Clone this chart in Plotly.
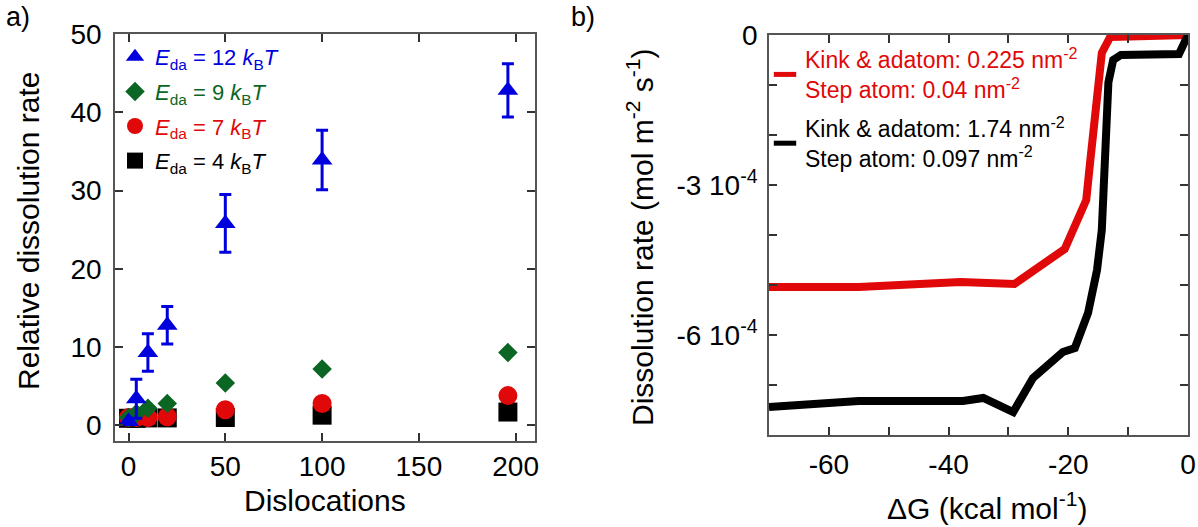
import numpy as np
import plotly.graph_objects as go

# ---------------- Panel a data ----------------
dislocations = [0, 4, 10, 20, 50, 100, 196]
rate_e12 = [0.5, 3.4, 9.3, 12.8, 25.8, 33.9, 42.8]
err_e12 = [0, 2.5, 2.4, 2.4, 3.7, 3.8, 3.4]
rate_e9 = [1.0, 1.5, 2.2, 2.8, 5.4, 7.2, 9.3]
rate_e7 = [1.0, 1.0, 1.0, 1.1, 2.0, 2.8, 3.8]
rate_e4 = [0.9, 0.9, 0.95, 0.95, 1.0, 1.3, 1.7]

labels_a = {
    "e12": "<i>E</i><sub>da</sub> = 12 <i>k</i><sub>B</sub><i>T</i>",
    "e9": "<i>E</i><sub>da</sub> = 9 <i>k</i><sub>B</sub><i>T</i>",
    "e7": "<i>E</i><sub>da</sub> = 7 <i>k</i><sub>B</sub><i>T</i>",
    "e4": "<i>E</i><sub>da</sub> = 4 <i>k</i><sub>B</sub><i>T</i>",
}

# ---------------- Panel b data ----------------
dG_red = [-70, -55, -38, -29, -20.6, -17.0, -16.4, -15.2, -14.4, -13.0, -1.0, 0]
rate_red = [-5.04e-4, -5.04e-4, -4.94e-4, -4.98e-4, -4.28e-4, -3.3e-4, -2.6e-4,
            -1.1e-4, -0.36e-4, -0.04e-4, -0.02e-4, 0.0]
dG_black = [-70, -55, -37.6, -34.2, -29.2, -25.9, -20.9, -18.9, -16.7, -15.2,
            -14.4, -14.0, -13.7, -13.3, -12.5, -11.2, -1.5, 0]
rate_black = [-7.44e-4, -7.32e-4, -7.32e-4, -7.26e-4, -7.54e-4, -6.86e-4, -6.34e-4,
              -6.26e-4, -5.56e-4, -4.7e-4, -3.9e-4, -2.9e-4, -1.6e-4, -0.95e-4,
              -0.5e-4, -0.4e-4, -0.38e-4, 0.0]
label_red = "Kink & adatom: 0.225 nm<sup>-2</sup><br>Step atom: 0.04 nm<sup>-2</sup>"
label_black = "Kink & adatom: 1.74 nm<sup>-2</sup><br>Step atom: 0.097 nm<sup>-2</sup>"

ytick_b_vals = [0, -1e-4, -2e-4, -3e-4, -4e-4, -5e-4, -6e-4, -7e-4, -8e-4]
ytick_b_text = ["0", "", "", "-3 10<sup>-4</sup>", "", "", "-6 10<sup>-4</sup>", "", ""]
xtick_b_vals = [-70, -60, -50, -40, -30, -20, -10, 0]
xtick_b_text = ["", "-60", "", "-40", "", "-20", "", "0"]

BLUE = "#0000dd"
GREEN = "#0b6623"
RED = "#e00808"
BLACK = "#000000"
FONT = "Arial, Liberation Sans, sans-serif"

fig = go.Figure()

# Panel a traces (drawn black, red, green, blue so blue is on top)
fig.add_trace(go.Scatter(x=dislocations, y=rate_e4, mode="markers",
                         name=f'<span style="color:{BLACK}">{labels_a["e4"]}</span>',
                         marker=dict(symbol="square", size=19, color=BLACK),
                         xaxis="x", yaxis="y", legend="legend", legendgroup="e4",
                         legendrank=4))
fig.add_trace(go.Scatter(x=dislocations, y=rate_e7, mode="markers",
                         name=f'<span style="color:{RED}">{labels_a["e7"]}</span>',
                         marker=dict(symbol="circle", size=19, color=RED),
                         xaxis="x", yaxis="y", legend="legend", legendgroup="e7",
                         legendrank=3))
fig.add_trace(go.Scatter(x=dislocations, y=rate_e9, mode="markers",
                         name=f'<span style="color:{GREEN}">{labels_a["e9"]}</span>',
                         marker=dict(symbol="diamond", size=15, color=GREEN),
                         xaxis="x", yaxis="y", legend="legend", legendgroup="e9",
                         legendrank=2))
fig.add_trace(go.Scatter(x=dislocations, y=rate_e12, mode="markers",
                         name=f'<span style="color:{BLUE}">{labels_a["e12"]}</span>',
                         marker=dict(symbol="triangle-up", size=18, color=BLUE),
                         error_y=dict(type="data", array=err_e12, visible=True,
                                      color=BLUE, thickness=3, width=6),
                         xaxis="x", yaxis="y", legend="legend", legendgroup="e12",
                         legendrank=1))

# Panel b traces
fig.add_trace(go.Scatter(x=dG_red, y=rate_red, mode="lines", showlegend=False,
                         line=dict(color=RED, width=8), xaxis="x2", yaxis="y2"))
fig.add_trace(go.Scatter(x=dG_black, y=rate_black, mode="lines", showlegend=False,
                         line=dict(color=BLACK, width=8), xaxis="x2", yaxis="y2"))
# legend entries for panel b
fig.add_trace(go.Scatter(x=[None], y=[None], mode="markers",
                         name=f'<span style="color:{RED}">{label_red}</span>',
                         marker=dict(symbol="line-ew", size=16, line=dict(color=RED, width=7)),
                         xaxis="x2", yaxis="y2", legend="legend2", legendgroup="r"))
fig.add_trace(go.Scatter(x=[None], y=[None], mode="markers",
                         name=f'<span style="color:{BLACK}">{label_black}</span>',
                         marker=dict(symbol="line-ew", size=16, line=dict(color=BLACK, width=7)),
                         xaxis="x2", yaxis="y2", legend="legend2", legendgroup="b"))

W, H = 1198, 527
def px_x(p):
    return p / W
def px_y(p):
    return 1 - p / H

axis_common = dict(showline=True, linecolor="#555", linewidth=1.5, mirror="ticks",
                   ticks="inside", ticklen=8, tickwidth=1.5, tickcolor="#333",
                   showgrid=False, zeroline=False, automargin=False,
                   tickfont=dict(family=FONT, size=28, color="black"))

fig.update_layout(
    width=W, height=H,
    margin=dict(l=0, r=0, t=0, b=0, pad=0, autoexpand=False),
    plot_bgcolor="white", paper_bgcolor="white",
    font=dict(family=FONT, color="black"),
    xaxis=dict(domain=[px_x(115), px_x(535)], range=[-7, 210], anchor="y",
               tickvals=[0, 50, 100, 150, 200], ticklabelstandoff=0, **axis_common),
    yaxis=dict(domain=[px_y(441), px_y(34)], range=[-2, 50], anchor="x",
               tickvals=[0, 10, 20, 30, 40, 50], ticklabelstandoff=6, **axis_common),
    xaxis2=dict(domain=[px_x(769), px_x(1188)], range=[-70, 0], anchor="y2",
                tickvals=xtick_b_vals, ticktext=xtick_b_text, ticklabelstandoff=4,
                **axis_common),
    yaxis2=dict(domain=[px_y(435), px_y(35)], range=[-8e-4, 0], anchor="x2",
                tickvals=ytick_b_vals, ticktext=ytick_b_text, ticklabelstandoff=4,
                **axis_common),
    legend=dict(x=px_x(115), y=px_y(36), xanchor="left", yanchor="top",
                bgcolor="rgba(0,0,0,0)", traceorder="grouped", tracegroupgap=3,
                font=dict(family=FONT, size=22, color="black"), itemsizing="trace"),
    legend2=dict(x=px_x(765), y=px_y(38), xanchor="left", yanchor="top",
                 bgcolor="rgba(0,0,0,0)", traceorder="grouped", tracegroupgap=6,
                 font=dict(family=FONT, size=23, color="black")),
    showlegend=True,
)

ann_font = dict(family=FONT, size=30, color="black")
fig.add_annotation(text="Relative dissolution rate", x=px_x(28), y=px_y(231),
                   xref="paper", yref="paper", textangle=-90, showarrow=False,
                   xanchor="center", yanchor="middle", font=ann_font)
fig.add_annotation(text="Dislocations", x=px_x(325), y=px_y(500),
                   xref="paper", yref="paper", showarrow=False,
                   xanchor="center", yanchor="middle", font=ann_font)
fig.add_annotation(text="Dissolution rate (mol m<sup>-2</sup> s<sup>-1</sup>)",
                   x=px_x(640), y=px_y(238), xref="paper", yref="paper", textangle=-90,
                   showarrow=False, xanchor="center", yanchor="middle", font=ann_font)
fig.add_annotation(text="ΔG (kcal mol<sup>-1</sup>)", x=px_x(987), y=px_y(506),
                   xref="paper", yref="paper", showarrow=False,
                   xanchor="center", yanchor="middle", font=ann_font)
fig.add_annotation(text="a)", x=px_x(4), y=px_y(17), xref="paper", yref="paper",
                   showarrow=False, xanchor="left", yanchor="middle",
                   font=dict(family=FONT, size=27, color="black"))
fig.add_annotation(text="b)", x=px_x(569), y=px_y(17), xref="paper", yref="paper",
                   showarrow=False, xanchor="left", yanchor="middle",
                   font=dict(family=FONT, size=27, color="black"))

fig.write_html("out.html")
